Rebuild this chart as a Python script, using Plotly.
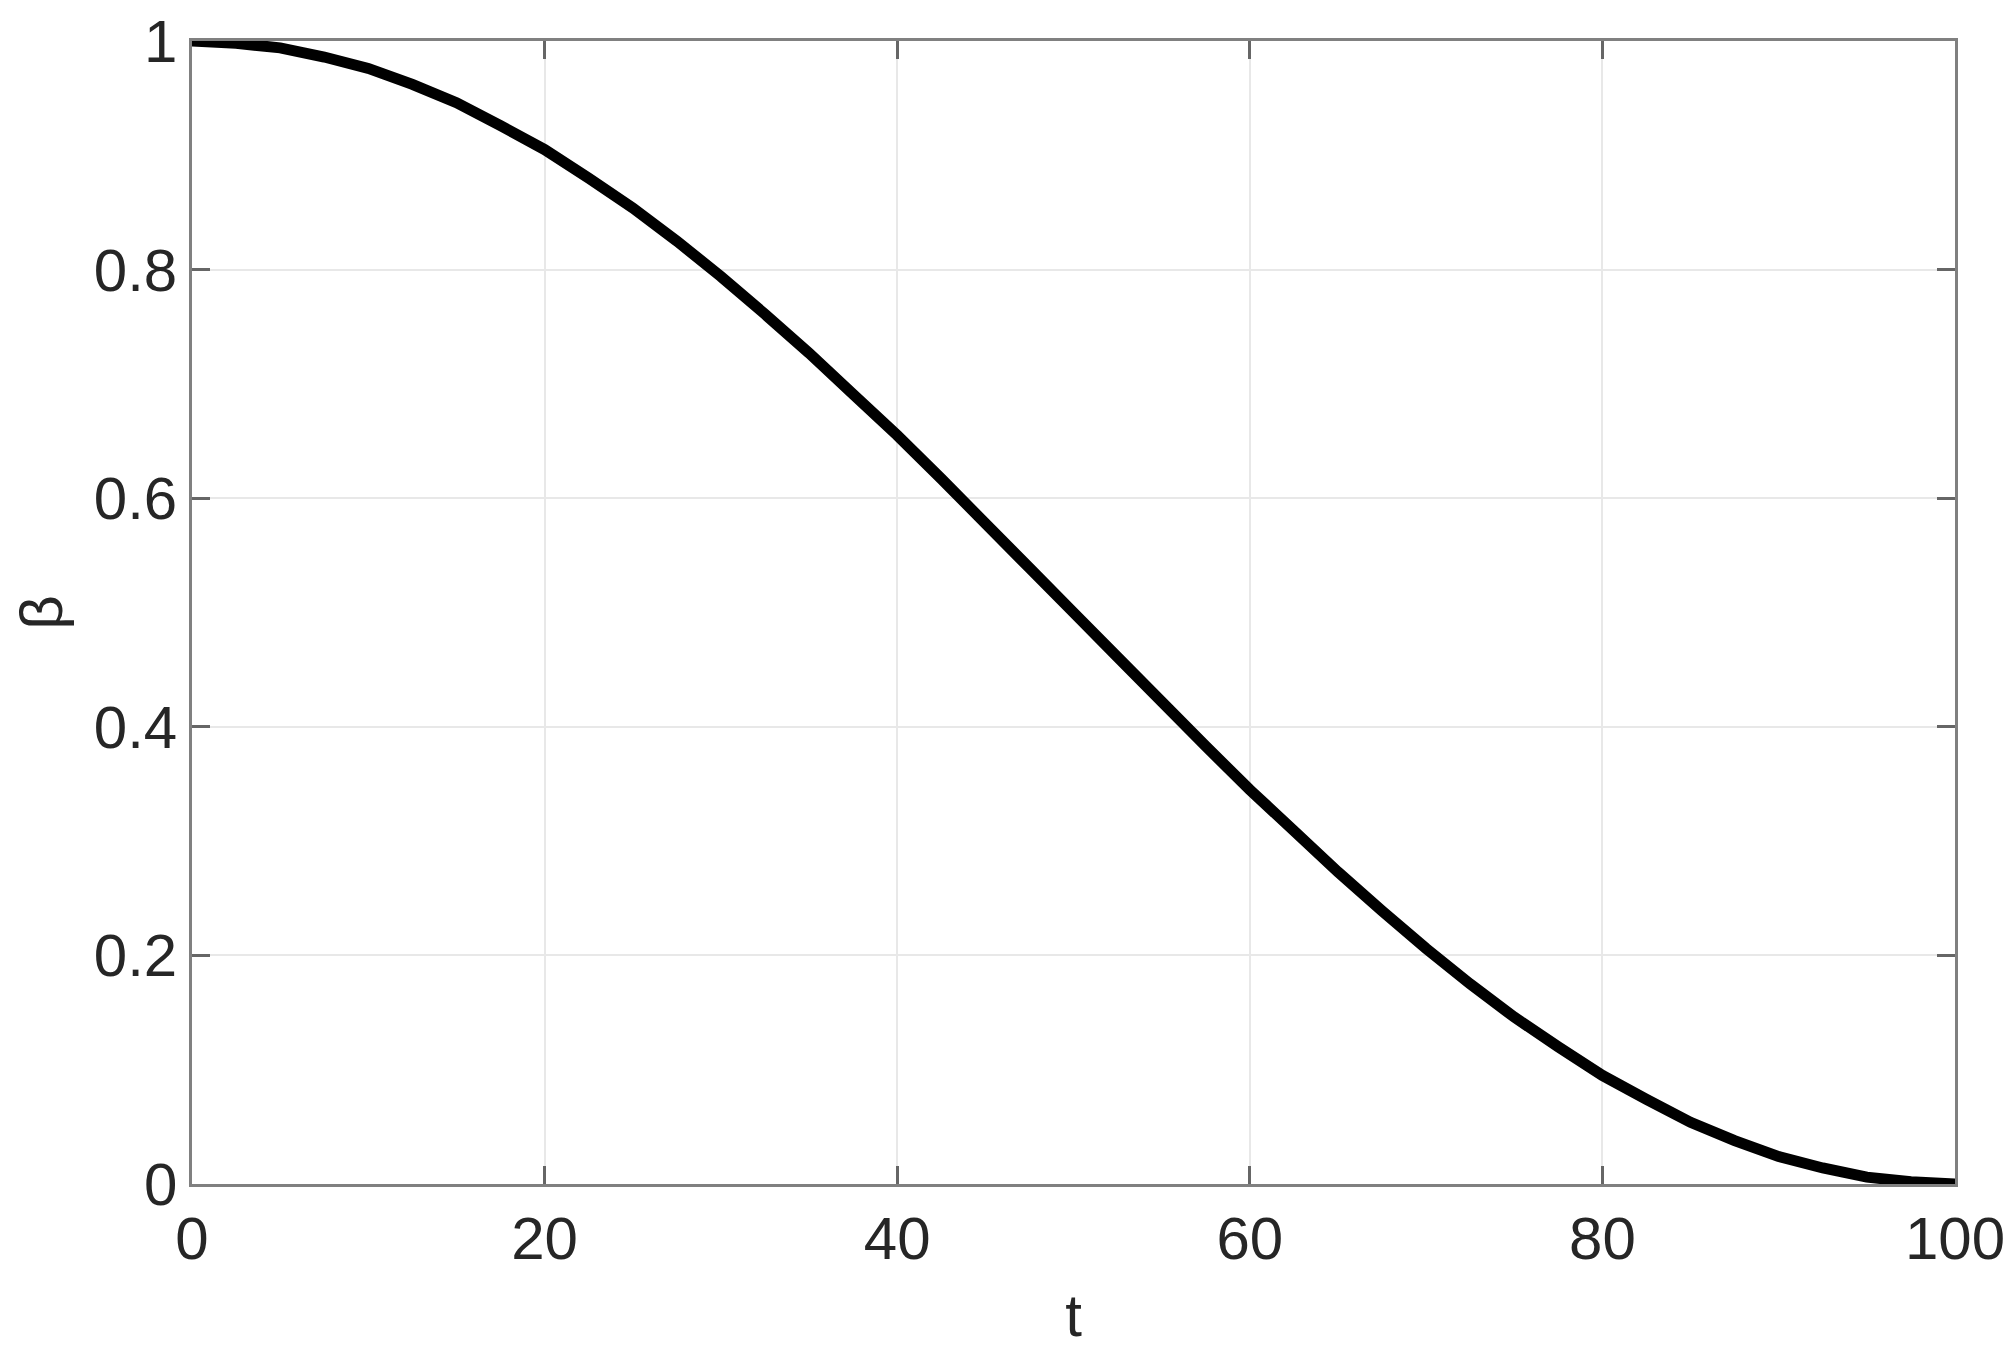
import plotly.graph_objects as go

t_values = [0, 2.5, 5, 7.5, 10, 12.5, 15, 17.5, 20, 22.5, 25, 27.5, 30, 32.5, 35, 37.5, 40,
            42.5, 45, 47.5, 50, 52.5, 55, 57.5, 60, 62.5, 65, 67.5, 70, 72.5, 75, 77.5, 80,
            82.5, 85, 87.5, 90, 92.5, 95, 97.5, 100]
beta_values = [1.000, 0.998, 0.994, 0.986, 0.976, 0.962, 0.946, 0.926, 0.905, 0.880, 0.854,
               0.825, 0.794, 0.761, 0.727, 0.691, 0.655, 0.617, 0.578, 0.539, 0.500, 0.461,
               0.422, 0.383, 0.345, 0.309, 0.273, 0.239, 0.206, 0.175, 0.146, 0.120, 0.095,
               0.074, 0.054, 0.038, 0.024, 0.014, 0.006, 0.002, 0.000]
x_ticks = [0, 20, 40, 60, 80, 100]
y_ticks = [0, 0.2, 0.4, 0.6, 0.8, 1]
y_tick_labels = ["0", "0.2", "0.4", "0.6", "0.8", "1"]

fig = go.Figure()
fig.add_trace(go.Scatter(x=t_values, y=beta_values, mode="lines",
                         line=dict(color="black", width=11, shape="linear", simplify=False),
                         cliponaxis=False, showlegend=False))

font = dict(family="Arial, Liberation Sans, Helvetica, sans-serif", size=60, color="#262626")
axis_common = dict(showline=True, linecolor="#808080", linewidth=2.5, mirror="ticks",
                   ticks="inside", ticklen=18, tickwidth=2.5, tickcolor="#666666",
                   showgrid=True, gridcolor="#e8e8e8", gridwidth=1.5, zeroline=False,
                   tickfont=font, automargin=False)

fig.update_xaxes(range=[0, 100], tickvals=x_ticks, ticktext=[str(v) for v in x_ticks],
                 title=dict(text="t", font=font, standoff=24), **axis_common)
fig.update_yaxes(range=[0, 1], tickvals=y_ticks, ticktext=y_tick_labels,
                 title=dict(text="β", font=font, standoff=20), **axis_common)

fig.update_layout(width=2016, height=1364,
                  margin=dict(l=184, r=69, t=33, b=188, pad=0),
                  plot_bgcolor="white", paper_bgcolor="white")

fig.write_html("out.html")
